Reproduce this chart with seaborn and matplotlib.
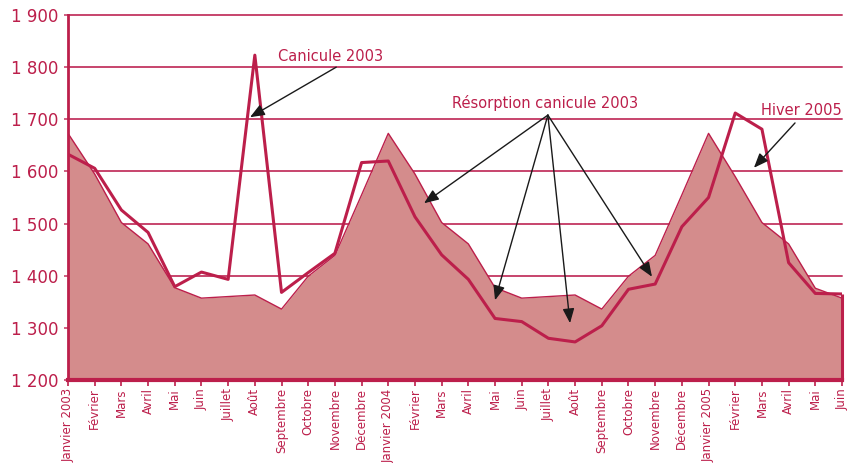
import matplotlib
matplotlib.use("Agg")
import matplotlib.pyplot as plt
import seaborn as sns
import numpy as np
import pandas as pd

months = ["Janvier 2003", "Février", "Mars", "Avril", "Mai", "Juin", "Juillet", "Août",
          "Septembre", "Octobre", "Novembre", "Décembre",
          "Janvier 2004", "Février", "Mars", "Avril", "Mai", "Juin", "Juillet", "Août",
          "Septembre", "Octobre", "Novembre", "Décembre",
          "Janvier 2005", "Février", "Mars", "Avril", "Mai", "Juin"]

# seasonal reference (filled area)
area_vals = [1673, 1595, 1502, 1461, 1377, 1357, 1360, 1363, 1336, 1399, 1439, 1555,
             1673, 1595, 1502, 1461, 1377, 1357, 1360, 1363, 1336, 1399, 1439, 1555,
             1673, 1590, 1502, 1461, 1376, 1357]
# observed series (line)
line_vals = [1633, 1606, 1526, 1483, 1379, 1407, 1393, 1823, 1368, 1406, 1443, 1617,
             1620, 1513, 1440, 1393, 1318, 1312, 1280, 1273, 1304, 1374, 1384, 1494,
             1550, 1712, 1681, 1425, 1366, 1365]

yticks = [1200, 1300, 1400, 1500, 1600, 1700, 1800, 1900]
ytick_labels = ["1 200", "1 300", "1 400", "1 500", "1 600", "1 700", "1 800", "1 900"]

df = pd.DataFrame({"idx": np.arange(len(months)), "area": area_vals, "line": line_vals})

CRIMSON = "#BC1F4B"
GRID = "#C7446C"
FILL = "#D48C8C"

sns.set_theme(style="white")
plt.rcParams["font.family"] = ["DejaVu Sans"]

fig = plt.figure(figsize=(8.47, 4.63), dpi=100)
ax = fig.add_axes([68 / 847, 1 - 380 / 463, (842 - 68) / 847, (380 - 15) / 463])

ymin, ymax = yticks[0], yticks[-1]
for yv in yticks[1:]:
    ax.axhline(yv, color=GRID, lw=1.4, zorder=1, clip_on=False)

ax.fill_between(df["idx"], ymin, df["area"], color=FILL, zorder=2, lw=0)
sns.lineplot(data=df, x="idx", y="area", ax=ax, color=CRIMSON, lw=1.0, zorder=3)
sns.lineplot(data=df, x="idx", y="line", ax=ax, color=CRIMSON, lw=2.2, zorder=4)
# closing vertical drop of the observed series at the last month
ax.plot([df["idx"].iloc[-1]] * 2, [df["line"].iloc[-1], ymin], color=CRIMSON, lw=2.2, zorder=4,
        solid_capstyle="butt", clip_on=False)

ax.set_xlim(0, len(months) - 1)
ax.set_ylim(ymin, ymax)
ax.set_xticks(df["idx"])
ax.set_xticklabels(months, rotation=90, fontsize=8.5, color=CRIMSON, va="top")
ax.set_yticks(yticks)
ax.set_yticklabels(ytick_labels, fontsize=12, color=CRIMSON)
ax.tick_params(axis="x", length=4, width=1.2, color=CRIMSON, pad=2, bottom=True)
ax.tick_params(axis="y", length=3, width=1.2, color=GRID, pad=4, left=True)
ax.set_xlabel("")
ax.set_ylabel("")

for s in ["top", "right"]:
    ax.spines[s].set_visible(False)
ax.spines["left"].set_color(CRIMSON)
ax.spines["left"].set_linewidth(2.0)
ax.spines["bottom"].set_color(CRIMSON)
ax.spines["bottom"].set_linewidth(3.0)
ax.spines["left"].set_zorder(5)
ax.spines["bottom"].set_zorder(5)

arrow = dict(arrowstyle="-|>,head_length=0.55,head_width=0.22", color="#1a1a1a", lw=1.0,
             mutation_scale=16, shrinkA=0, shrinkB=0)
txt_kw = dict(fontsize=10.5, color=CRIMSON, ha="center", va="center")

ax.text(9.82, 1821, "Canicule 2003", **txt_kw, zorder=6)
ax.annotate("", xy=(6.82, 1704), xytext=(10.05, 1800), arrowprops=arrow, zorder=6)

ax.text(17.87, 1731, "Résorption canicule 2003", **txt_kw, zorder=6)
for hx, hy in [(13.34, 1539), (16.0, 1353), (18.81, 1309), (21.88, 1398)]:
    ax.annotate("", xy=(hx, hy), xytext=(17.98, 1708), arrowprops=arrow, zorder=6)

ax.text(27.46, 1716, "Hiver 2005", **txt_kw, zorder=6)
ax.annotate("", xy=(25.70, 1607), xytext=(27.24, 1693), arrowprops=arrow, zorder=6)

fig.savefig("out.png", dpi=100)
